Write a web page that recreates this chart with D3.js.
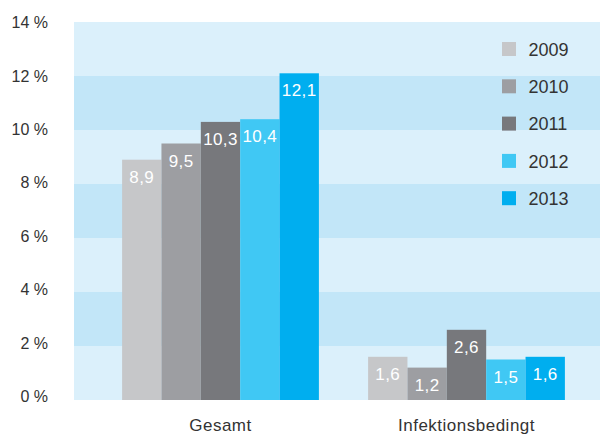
<!DOCTYPE html>
<html>
<head>
<meta charset="utf-8">
<script src="https://cdn.jsdelivr.net/npm/d3@7/dist/d3.min.js"></script>
<style>
  html, body { margin: 0; padding: 0; background: #fff; }
  svg { display: block; }
  text { font-family: "Liberation Sans", Arial, sans-serif; }
</style>
</head>
<body>
<svg id="chart" width="600" height="434"></svg>
<script>
// Rate data (percent) per category and year
const categories = ["Gesamt", "Infektionsbedingt"];
const years = ["2009", "2010", "2011", "2012", "2013"];
const values2009 = [8.9, 1.6];
const values2010 = [9.5, 1.2];
const values2011 = [10.3, 2.6];
const values2012 = [10.4, 1.5];
const values2013 = [12.1, 1.6];
const yTicks = [0, 2, 4, 6, 8, 10, 12, 14];
const yearColors = ["#c6c7c9", "#9d9ea2", "#77787c", "#40c8f4", "#00aeef"];

const series = [values2009, values2010, values2011, values2012, values2013];

const svg = d3.select("#chart");
const plot = { left: 74, right: 600, top: 22, bottom: 400 };

const y = d3.scaleLinear().domain([0, 14]).range([plot.bottom, plot.top]);
const x0 = d3.scaleBand().domain(categories).range([97.5, 589.5])
  .paddingInner(0.2).paddingOuter(0.1);
const x1 = d3.scaleBand().domain(years).range([0, x0.bandwidth()]);
const color = d3.scaleOrdinal().domain(years).range(yearColors);

// Alternating horizontal bands behind the bars
const bands = d3.pairs(yTicks);
svg.append("g").selectAll("rect").data(bands).join("rect")
  .attr("x", plot.left)
  .attr("width", plot.right - plot.left)
  .attr("y", d => y(d[1]))
  .attr("height", d => y(d[0]) - y(d[1]))
  .attr("fill", (d, i) => i % 2 === 0 ? "#dbf0fb" : "#c2e6f8");

// Y axis labels (slightly tighter spacing than the bands)
const fmtPct = d => d + " %";
const yAxis = d3.axisLeft(y).tickValues(yTicks).tickFormat(fmtPct).tickSize(0).tickPadding(0);
const gy = svg.append("g").attr("transform", "translate(48,0)").call(yAxis);
gy.select(".domain").remove();
gy.selectAll("text")
  .attr("font-size", 16)
  .attr("fill", "#333")
  .attr("font-family", "Liberation Sans, Arial, sans-serif")
  .attr("dy", null)
  .attr("y", d => -4 + d * 0.3)
  .attr("dominant-baseline", "central");

// Bars grouped by category
const flat = [];
categories.forEach((c, ci) => {
  years.forEach((yr, yi) => flat.push({ cat: c, year: yr, value: series[yi][ci] }));
});

const fmtVal = d3.format(".1f");
const fmtDe = v => fmtVal(v).replace(".", ",");

const bars = svg.append("g").selectAll("g").data(flat).join("g")
  .attr("transform", d => `translate(${x0(d.cat) + x1(d.year)},0)`);

bars.append("rect")
  .attr("y", d => y(d.value))
  .attr("width", x1.bandwidth())
  .attr("height", d => y(0) - y(d.value))
  .attr("fill", d => color(d.year));

bars.append("text")
  .attr("x", x1.bandwidth() / 2)
  .attr("y", d => y(d.value) + 23)
  .attr("text-anchor", "middle")
  .attr("font-size", 17)
  .attr("letter-spacing", 0.4)
  .attr("fill", "#fff")
  .text(d => fmtDe(d.value));

// Category labels
const xAxis = d3.axisBottom(x0).tickSize(0).tickPadding(0);
const gx = svg.append("g").attr("transform", `translate(0,${plot.bottom})`).call(xAxis);
gx.select(".domain").remove();
gx.selectAll("text")
  .attr("font-size", 17)
  .attr("letter-spacing", 0.5)
  .attr("fill", "#333")
  .attr("font-family", "Liberation Sans, Arial, sans-serif")
  .attr("dy", null)
  .attr("y", 31);

// Legend
const legend = svg.append("g").selectAll("g").data(years).join("g")
  .attr("transform", (d, i) => `translate(502,${42 + i * 37.3})`);
legend.append("rect").attr("width", 14).attr("height", 14).attr("fill", d => color(d));
legend.append("text")
  .attr("x", 26.5)
  .attr("y", 13.7)
  .attr("font-size", 18)
  .attr("fill", "#333")
  .text(d => d);
</script>
</body>
</html>
